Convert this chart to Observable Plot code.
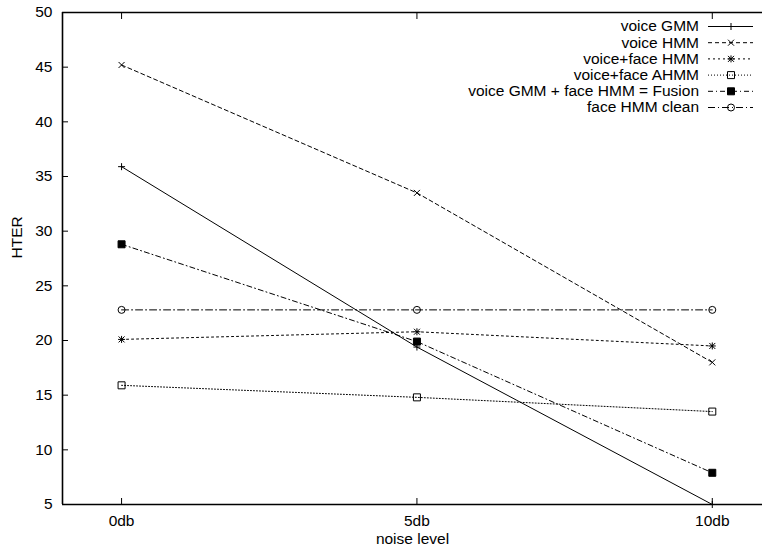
<!DOCTYPE html>
<html>
<head>
<meta charset="utf-8">
<script src="https://cdn.jsdelivr.net/npm/d3@7"></script>
<script src="https://cdn.jsdelivr.net/npm/@observablehq/plot@0.6"></script>
<style>
  html, body { margin: 0; padding: 0; background: #fff; }
  #chart { width: 762px; height: 552px; overflow: hidden; }
</style>
</head>
<body>
<div id="chart"></div>
<script>
// ---- data ----
const noise = [0, 5, 10];
const noiseLabels = ["0db", "5db", "10db"];
const yTicks = [5, 10, 15, 20, 25, 30, 35, 40, 45, 50];
const seriesNames = [
  "voice GMM",
  "voice HMM",
  "voice+face HMM",
  "voice+face AHMM",
  "voice GMM + face HMM = Fusion",
  "face HMM clean"
];
const voiceGMM     = [35.9, 19.4, 5.0];
const voiceHMM     = [45.2, 33.5, 18.0];
const voiceFaceHMM = [20.1, 20.8, 19.5];
const voiceFaceAHMM= [15.9, 14.8, 13.5];
const fusion       = [28.8, 19.9, 7.9];
const faceClean    = [22.8, 22.8, 22.8];
const seriesValues = [voiceGMM, voiceHMM, voiceFaceHMM, voiceFaceAHMM, fusion, faceClean];

// ---- styles ----
const FONT = "'Liberation Sans', Arial, Helvetica, sans-serif";
const FS = 15.5;
const dashes = ["none", "4,3", "2,3", "1,2", "5,3,1,3", "7,3,1,3"];
function sym(drawFn) { return { draw(ctx) { drawFn(ctx); } }; }
const symPlus = sym(c => { c.moveTo(-3.5, 0); c.lineTo(3.5, 0); c.moveTo(0, -3.5); c.lineTo(0, 3.5); });
const symTimes = sym(c => { c.moveTo(-3, -3); c.lineTo(3, 3); c.moveTo(-3, 3); c.lineTo(3, -3); });
const symAst = sym(c => { c.moveTo(-3.5, 0); c.lineTo(3.5, 0); c.moveTo(0, -3.5); c.lineTo(0, 3.5);
                          c.moveTo(-3, -3); c.lineTo(3, 3); c.moveTo(-3, 3); c.lineTo(3, -3); });
const symSquare = sym(c => { c.moveTo(-3.5, -3.5); c.lineTo(3.5, -3.5); c.lineTo(3.5, 3.5); c.lineTo(-3.5, 3.5); c.closePath(); });
const symCircle = sym(c => { c.moveTo(3.5, 0); c.arc(0, 0, 3.5, 0, 2 * Math.PI); c.closePath(); });
const symbols = [symPlus, symTimes, symAst, symSquare, symSquare, symCircle];
const fills = ["none", "none", "none", "none", "black", "none"];

const xDomain = [-1, 10.85];
const yDomain = [5, 50];

const rows = [];
seriesValues.forEach((vals, i) => vals.forEach((v, j) => rows.push({series: seriesNames[i], idx: i, x: noise[j], y: v})));

const lineMarks = seriesNames.map((name, i) =>
  Plot.line(rows.filter(r => r.idx === i), {x: "x", y: "y", stroke: "black", strokeWidth: 1, strokeDasharray: dashes[i] === "none" ? null : dashes[i]}));
const dotMarks = seriesNames.map((name, i) =>
  Plot.dot(rows.filter(r => r.idx === i), {x: "x", y: "y", symbol: () => symbols[i], r: 1, stroke: "black", strokeWidth: 1, fill: fills[i]}));

const plot = Plot.plot({
  width: 762,
  height: 552,
  marginLeft: 62,
  marginRight: 0,
  marginTop: 12,
  marginBottom: 48,
  style: { fontFamily: FONT, fontSize: FS + "px", color: "black", background: "white", overflow: "hidden" },
  x: { type: "linear", domain: xDomain },
  y: { type: "linear", domain: yDomain },
  symbol: { type: "identity" },
  marks: [
    // frame (left, top, bottom)
    Plot.ruleX([xDomain[0]], {stroke: "black", strokeWidth: 1.6}),
    Plot.ruleY([yDomain[0], yDomain[1]], {stroke: "black", strokeWidth: 1.6}),
    // y axis labels and inward ticks
    Plot.axisY({ticks: yTicks, tickSize: 0, tickPadding: 10, label: null, fontSize: FS}),
    Plot.axisY({ticks: yTicks.slice(1, -1), tickSize: 6, dx: 6, text: null, label: null}),
    // x axis labels and inward ticks (bottom and top)
    Plot.axisX({ticks: noise, tickFormat: d => noiseLabels[noise.indexOf(d)], tickSize: 0, tickPadding: 10, label: null, fontSize: FS}),
    Plot.axisX({ticks: noise, tickSize: 6, dy: -6, text: null, label: null}),
    Plot.axisX({anchor: "top", ticks: noise, tickSize: 6, dy: 6, text: null, label: null}),
    Plot.text(["noise level"], {frameAnchor: "bottom", dy: 39, fontSize: FS, fill: "black"}),
    Plot.text(["HTER"], {frameAnchor: "left", dx: -45, rotate: -90, fontSize: FS, fill: "black"}),
    ...lineMarks,
    ...dotMarks
  ]
});

// legend overlay (inside plot area, top right)
const svg = d3.select(plot);
const lg = svg.append("g").attr("font-family", FONT).attr("font-size", FS);
seriesNames.forEach((name, i) => {
  const yy = 26 + 16.2 * i;
  lg.append("text").attr("x", 699).attr("y", yy).attr("dy", "0.35em").attr("text-anchor", "end").attr("fill", "black").text(name);
  lg.append("line").attr("x1", 708).attr("x2", 753).attr("y1", yy + 0.5).attr("y2", yy + 0.5)
    .attr("stroke", "black").attr("stroke-width", 1).attr("stroke-dasharray", dashes[i] === "none" ? null : dashes[i]);
  const p = d3.path();
  symbols[i].draw(p);
  lg.append("path").attr("d", p.toString()).attr("transform", `translate(731,${yy + 0.5})`)
    .attr("stroke", "black").attr("fill", fills[i]).attr("stroke-width", 1);
});

document.getElementById("chart").appendChild(plot);
</script>
</body>
</html>
